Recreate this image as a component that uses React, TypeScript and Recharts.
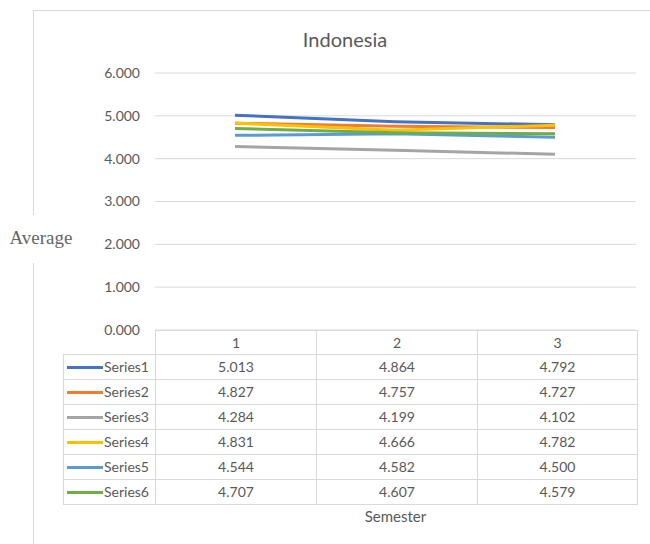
import {CartesianGrid, Line, LineChart, XAxis, YAxis} from 'recharts';

const semesters = ['1', '2', '3'];
const seriesNames = ['Series1', 'Series2', 'Series3', 'Series4', 'Series5', 'Series6'];
const series1 = [5.013, 4.864, 4.792];
const series2 = [4.827, 4.757, 4.727];
const series3 = [4.284, 4.199, 4.102];
const series4 = [4.831, 4.666, 4.782];
const series5 = [4.544, 4.582, 4.5];
const series6 = [4.707, 4.607, 4.579];
const yTicks = [0, 1, 2, 3, 4, 5, 6];

const seriesValues = [series1, series2, series3, series4, series5, series6];
const colors = ['#4472C4', '#ED7D31', '#A5A5A5', '#FFC000', '#5B9BD5', '#70AD47'];

const data = semesters.map((s, i) => {
  const row: Record<string, string | number> = {semester: s};
  seriesNames.forEach((name, j) => {
    row[name] = seriesValues[j][i];
  });
  return row;
});

const FONT = 'Lato, "Open Sans", sans-serif';
const TEXT = '#595959';
const GRID = '#D9D9D9';

const cellStyle = {
  border: `1px solid ${GRID}`,
  padding: 0,
  textAlign: 'center' as const,
  height: 24,
  lineHeight: '20px',
};

export default function App() {
  return (
    <div
      style={{
        position: 'absolute',
        left: 0,
        top: 0,
        width: 650,
        height: 544,
        overflow: 'hidden',
        background: '#fff',
        fontFamily: FONT,
        color: TEXT,
      }}
    >
      {/* chart frame */}
      <div
        style={{
          position: 'absolute',
          left: 33,
          top: 10,
          width: 700,
          height: 600,
          borderLeft: `1px solid ${GRID}`,
          borderTop: `1px solid ${GRID}`,
        }}
      />
      <div
        style={{
          position: 'absolute',
          left: 0,
          top: 27,
          width: 690,
          textAlign: 'center',
          fontSize: 20,
        }}
      >
        Indonesia
      </div>
      <div
        style={{
          position: 'absolute',
          left: 2,
          top: 215,
          width: 78,
          height: 48,
          lineHeight: '46px',
          background: '#fff',
          textAlign: 'center',
          fontFamily: '"Liberation Serif", serif',
          fontSize: 19,
          color: '#666',
        }}
      >
        Average
      </div>
      <div style={{position: 'absolute', left: 0, top: 0}}>
        <LineChart
          width={650}
          height={544}
          data={data}
          margin={{top: 73, right: 14, bottom: 214, left: 95}}
        >
          <CartesianGrid vertical={false} stroke={GRID} />
          <XAxis dataKey="semester" hide padding={{left: 80, right: 81}} />
          <YAxis
            width={60}
            domain={[0, 6]}
            ticks={yTicks}
            axisLine={false}
            tickLine={false}
            tickSize={0}
            tickMargin={15}
            tickFormatter={(v) => (v as number).toFixed(3)}
            tick={{fill: TEXT, fontSize: 14, fontFamily: FONT}}
          />
          {seriesNames.map((name, j) => (
            <Line
              key={name}
              type="linear"
              dataKey={name}
              stroke={colors[j]}
              strokeWidth={3}
              dot={false}
              isAnimationActive={false}
            />
          ))}
        </LineChart>
      </div>
      <table
        style={{
          position: 'absolute',
          left: 63,
          top: 330,
          width: 574,
          borderCollapse: 'collapse',
          tableLayout: 'fixed',
          fontSize: 14,
          fontFamily: FONT,
          color: TEXT,
        }}
      >
        <colgroup>
          <col style={{width: 92}} />
          <col style={{width: 161}} />
          <col style={{width: 161}} />
          <col style={{width: 160}} />
        </colgroup>
        <tbody>
          <tr>
            <td style={{padding: 0, height: 23}} />
            {semesters.map((s) => (
              <td key={s} style={{...cellStyle, height: 23}}>
                {s}
              </td>
            ))}
          </tr>
          {seriesNames.map((name, j) => (
            <tr key={name}>
              <td style={{...cellStyle, textAlign: 'left', whiteSpace: 'nowrap'}}>
                <span
                  style={{
                    display: 'inline-block',
                    width: 36,
                    height: 3,
                    background: colors[j],
                    verticalAlign: 'middle',
                    marginLeft: 3,
                    marginRight: 1,
                  }}
                />
                <span style={{verticalAlign: 'middle'}}>{name}</span>
              </td>
              {seriesValues[j].map((v, i) => (
                <td key={i} style={cellStyle}>
                  {v.toFixed(3)}
                </td>
              ))}
            </tr>
          ))}
        </tbody>
      </table>
      <div
        style={{
          position: 'absolute',
          left: 155,
          top: 507,
          width: 481,
          textAlign: 'center',
          fontSize: 15,
        }}
      >
        Semester
      </div>
    </div>
  );
}
